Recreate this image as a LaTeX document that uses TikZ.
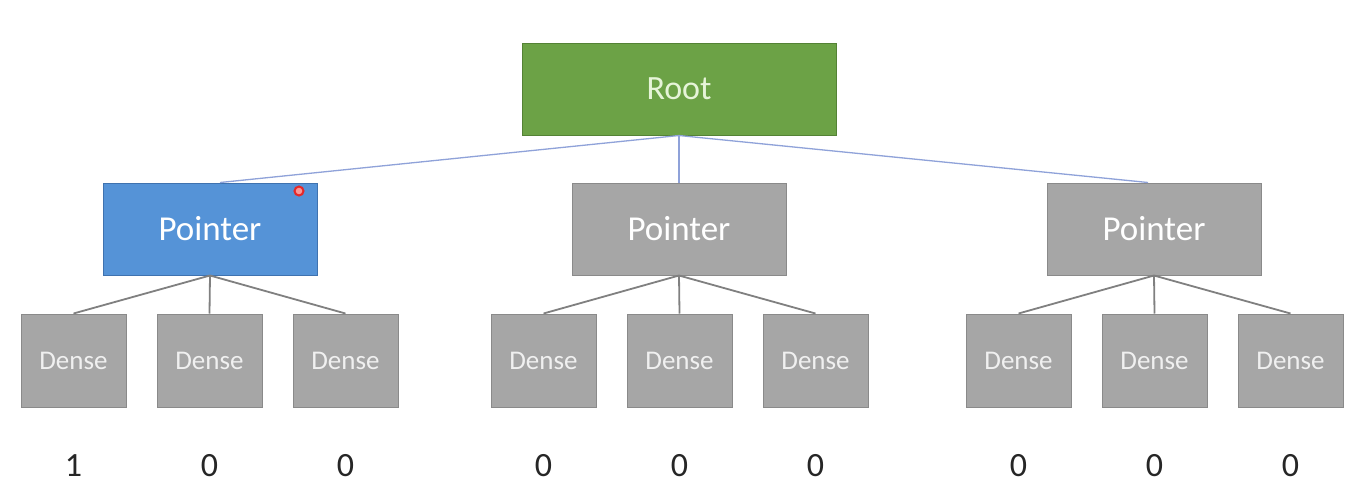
\documentclass[tikz,border=0pt]{standalone}
\usepackage{fontspec}
\setmainfont{Carlito}
\definecolor{rootfill}{HTML}{6CA246}
\definecolor{rootdraw}{HTML}{548235}
\definecolor{roottext}{HTML}{E6F4D8}
\definecolor{bluefill}{HTML}{5593D7}
\definecolor{bluedraw}{HTML}{3F72AF}
\definecolor{grayfill}{HTML}{A6A6A6}
\definecolor{graydraw}{HTML}{8A8A8A}
\definecolor{graytext}{HTML}{F0F0F0}
\definecolor{toplink}{HTML}{8FA2D9}
\definecolor{sublink}{HTML}{808080}
\definecolor{numtext}{HTML}{262626}
\begin{document}
\begin{tikzpicture}[x=1pt,y=-1pt,
  rootbox/.style={draw=rootdraw,fill=rootfill,line width=1pt,minimum width=314pt,minimum height=92pt,inner sep=0pt,text=roottext,font=\fontsize{34}{40}\selectfont},
  ptrbox/.style={draw=graydraw,fill=grayfill,line width=1pt,minimum width=214pt,minimum height=92pt,inner sep=0pt,text=white,font=\fontsize{35}{40}\selectfont},
  activebox/.style={ptrbox,draw=bluedraw,fill=bluefill},
  densebox/.style={draw=graydraw,fill=grayfill,line width=1pt,minimum width=105pt,minimum height=93pt,inner sep=0pt,text=graytext,font=\fontsize{27}{32}\selectfont},
  numlabel/.style={text=numtext,inner sep=0pt,font=\fontsize{34}{40}\selectfont},
  toplinkstyle/.style={draw=toplink,line width=1.3pt},
  sublinkstyle/.style={draw=sublink,line width=1.8pt}]
\useasboundingbox[fill=white] (0,0) rectangle (1365,499);
\node[rootbox] (root) at (679,89) {Root};
\node[activebox] (p1) at (210,229) {Pointer};
\node[ptrbox] (p2) at (679,229) {Pointer};
\node[ptrbox] (p3) at (1154,229) {Pointer};
\foreach \n/\x in {d1/73.5,d2/209.5,d3/345.5,d4/543.5,d5/679.5,d6/815.5,d7/1018.5,d8/1154.5,d9/1290.5}
  \node[densebox] (\n) at (\x,360.5) {Dense};
\foreach \n/\x/\v in {n1/73.5/1,n2/209.5/0,n3/345.5/0,n4/543.5/0,n5/679.5/0,n6/815.5/0,n7/1018.5/0,n8/1154.5/0,n9/1290.5/0}
  \node[numlabel] (\n) at (\x,466) {\v};
\draw[toplinkstyle] (root.south) -- ([xshift=10pt]p1.north);
\draw[toplinkstyle] (root.south) -- (p2.north);
\draw[toplinkstyle] (root.south) -- ([xshift=-6pt]p3.north);
\foreach \p/\a/\b/\c in {p1/d1/d2/d3,p2/d4/d5/d6,p3/d7/d8/d9}{
  \draw[sublinkstyle] (\p.south) -- (\a.north);
  \draw[sublinkstyle] (\p.south) -- (\b.north);
  \draw[sublinkstyle] (\p.south) -- (\c.north);
}
\node[circle,draw={rgb,255:red,230;green,40;blue,40},fill={rgb,255:red,250;green,150;blue,150},line width=2pt,minimum size=9pt,inner sep=0pt] (cursor) at (299,191) {};
\end{tikzpicture}
\end{document}
